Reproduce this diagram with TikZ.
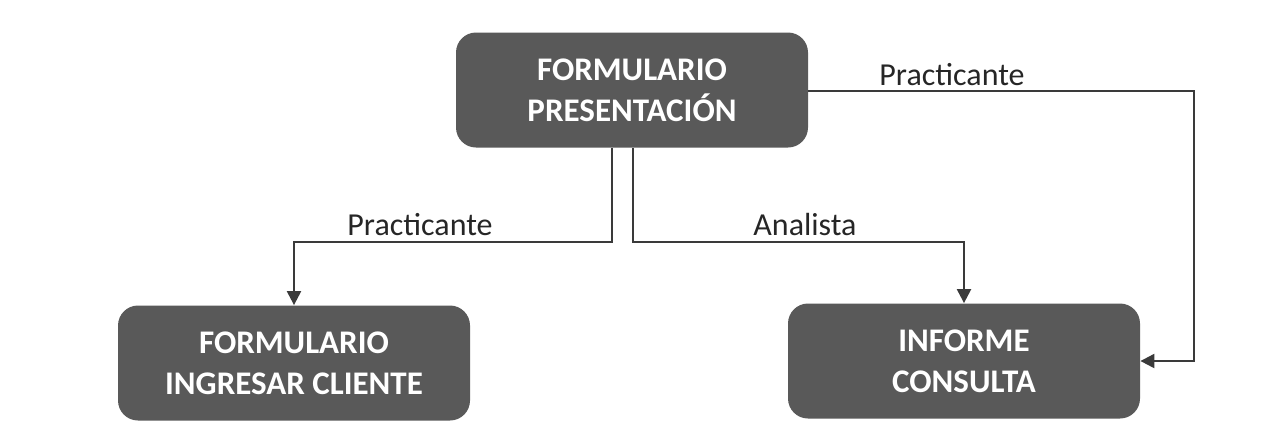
\documentclass[tikz,border=0pt]{standalone}
\usepackage{fontspec}
\setmainfont{Carlito}
\usetikzlibrary{arrows.meta}
\definecolor{boxgray}{HTML}{595959}
\definecolor{linegray}{HTML}{3a3a3a}
\definecolor{textgray}{HTML}{262626}

\begin{document}
\begin{tikzpicture}[x=0.5pt, y=-0.5pt,
  pantalla/.style={fill=boxgray, rounded corners=10pt, minimum width=176pt, minimum height=57.5pt,
    inner sep=0pt, align=center, text=white, font=\fontsize{16.5}{20.5}\selectfont\bfseries},
  flujo/.style={draw=linegray, line width=1.1pt, -{Triangle[length=7pt, width=7pt]}},
  rol/.style={anchor=base, text=textgray, inner sep=0pt, font=\fontsize{16}{19}\selectfont}]
\useasboundingbox (0,0) rectangle (1272,446);

\node[pantalla] (present) at (632,90) {FORMULARIO\\PRESENTACIÓN};
\node[pantalla] (ingresar) at (294,363) {FORMULARIO\\INGRESAR CLIENTE};
\node[pantalla] (informe) at (964,361) {INFORME\\CONSULTA};

\coordinate (cIzq) at (612,242);
\coordinate (cDer) at (633,242);
\coordinate (cArr) at (1194,91);

\draw[flujo] (present.south -| cIzq) -- (cIzq) -| (ingresar.north);
\draw[flujo] (present.south -| cDer) -- (cDer) -| (informe.north);
\draw[flujo] (present.east |- cArr) -- (cArr) |- (informe.east);

\node[rol] (lblIzq) at (420,235) {Practicante};
\node[rol] (lblDer) at (805,235) {Analista};
\node[rol] (lblArr) at (952,85) {Practicante};
\end{tikzpicture}
\end{document}
